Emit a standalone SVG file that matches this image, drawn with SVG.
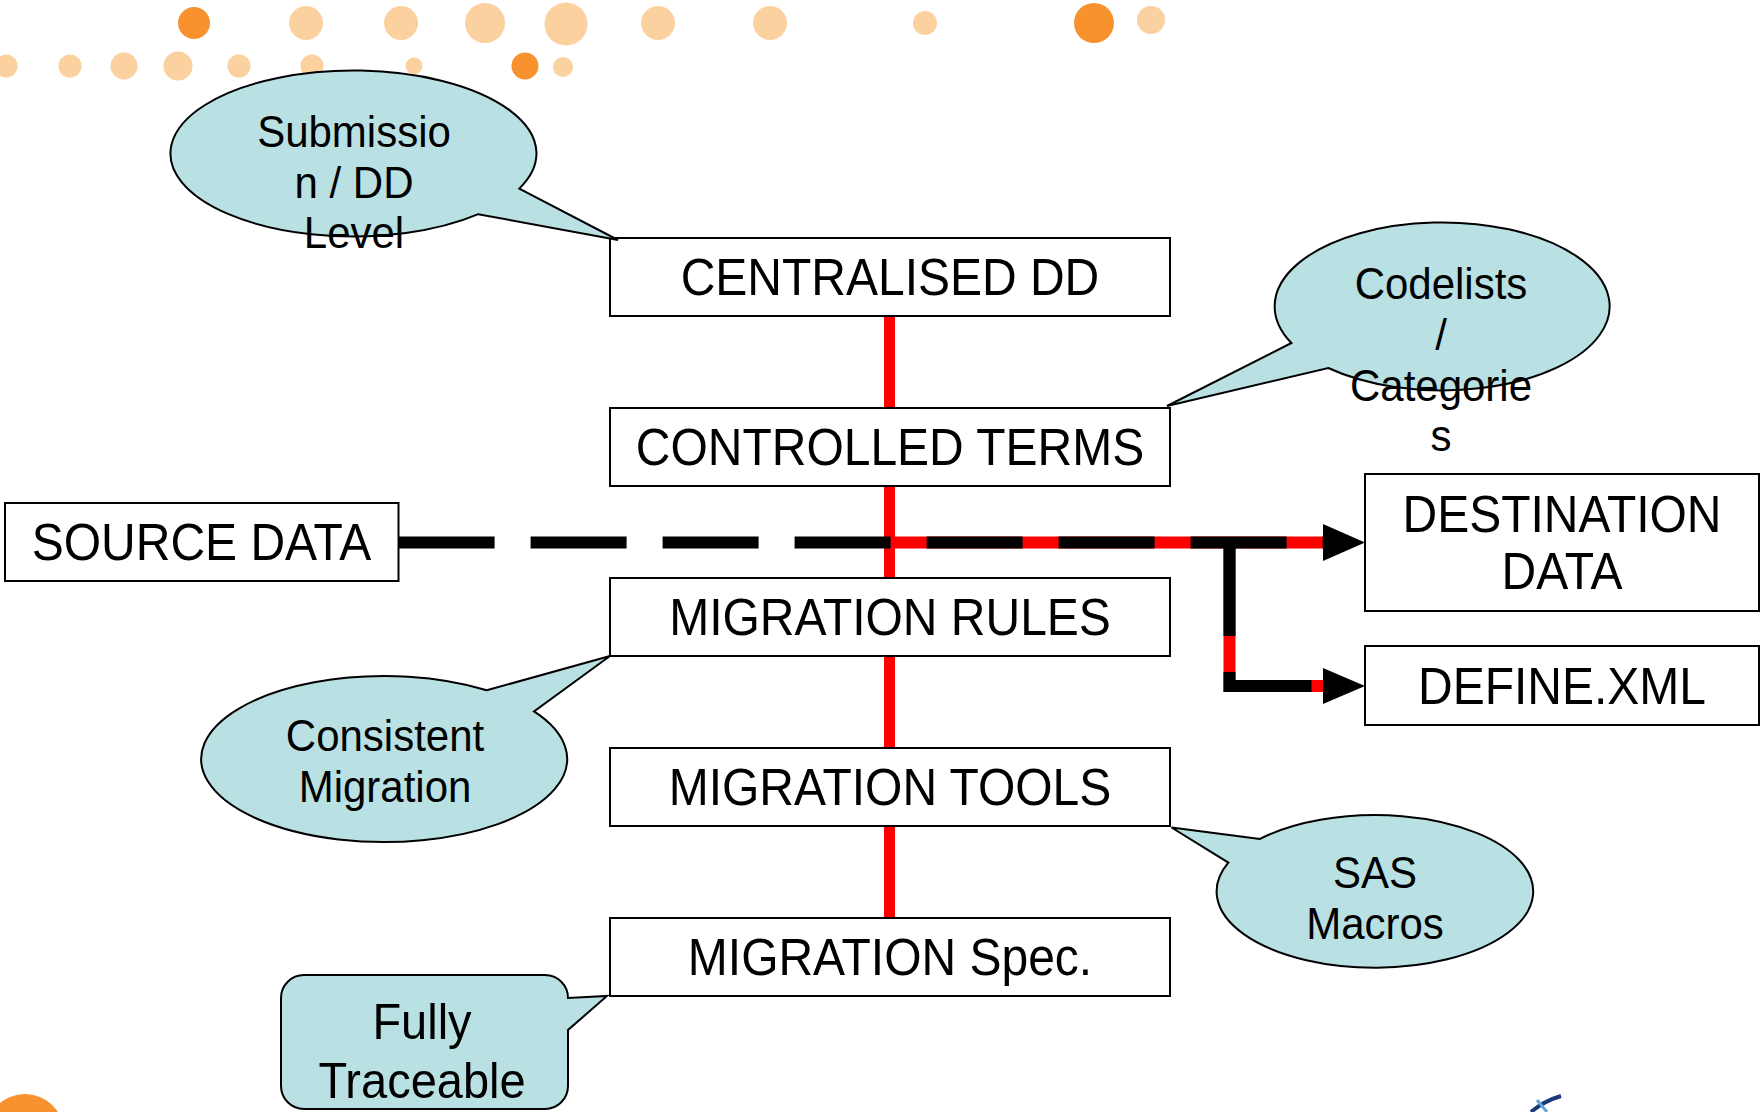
<svg xmlns="http://www.w3.org/2000/svg" width="1760" height="1112" viewBox="0 0 1760 1112">
  <defs>
    <style>
      .dot-o { fill: #F7922F; }
      .dot-p { fill: #FAD19F; }
      .box { fill: #FFFFFF; stroke: #000000; stroke-width: 2; }
      .bub { fill: #B9E0E3; stroke: #000000; stroke-width: 2; stroke-linejoin: miter; }
      .t { font-family: "Liberation Sans", Arial, sans-serif; text-anchor: middle; fill: #000000; }
      .tb { font-size: 48px; }
      .tc { font-size: 42px; }
      .tf { font-size: 47px; }
      .red { fill: none; stroke: #FF0000; stroke-width: 12; }
      .redv { fill: none; stroke: #FF0000; stroke-width: 11; }
      .dash { fill: none; stroke: #000000; stroke-width: 12; stroke-dasharray: 96 36; }
      .head { fill: #000000; }
    </style>
  </defs>

  <!-- decorative dots -->
  <g id="decor">
    <circle class="dot-o" cx="194" cy="23" r="16"/>
    <circle class="dot-p" cx="306" cy="23" r="17"/>
    <circle class="dot-p" cx="401" cy="23" r="17"/>
    <circle class="dot-p" cx="485" cy="23" r="20"/>
    <circle class="dot-p" cx="566" cy="24" r="21.5"/>
    <circle class="dot-p" cx="658" cy="23" r="17"/>
    <circle class="dot-p" cx="770" cy="23" r="17"/>
    <circle class="dot-p" cx="925" cy="23" r="12"/>
    <circle class="dot-o" cx="1094" cy="23" r="20"/>
    <circle class="dot-p" cx="1151" cy="20" r="14"/>
    <circle class="dot-p" cx="6" cy="66" r="11.5"/>
    <circle class="dot-p" cx="70" cy="66" r="11.5"/>
    <circle class="dot-p" cx="124" cy="66" r="13.5"/>
    <circle class="dot-p" cx="178" cy="66" r="14.5"/>
    <circle class="dot-p" cx="239" cy="66" r="11.5"/>
    <circle class="dot-p" cx="312" cy="66" r="11.5"/>
    <circle class="dot-p" cx="414" cy="66" r="8.5"/>
    <circle class="dot-o" cx="525" cy="66" r="13.5"/>
    <circle class="dot-p" cx="563" cy="67" r="10"/>
    <circle class="dot-o" cx="25" cy="1133" r="39"/>
    <path d="M1531 1112 Q1544 1101 1561 1096" fill="none" stroke="#1F3A7A" stroke-width="4"/>
    <path d="M1537 1100 L1547 1112" fill="none" stroke="#5FA8D8" stroke-width="3"/>
  </g>

  <!-- connectors -->
  <g id="connectors">
    <line class="redv" x1="889.5" y1="316" x2="889.5" y2="918"/>
    <path class="red" d="M889 542.5 H1324"/>
    <path class="red" d="M1229.5 542.5 V686 H1324"/>
    <path class="dash" d="M398.6 542.5 H1323"/>
    <path class="dash" d="M1229.5 540 V686 H1323"/>
    <polygon class="head" points="1323,524 1365,542.5 1323,561"/>
    <polygon class="head" points="1323,668 1365,686 1323,704"/>
  </g>

  <!-- process boxes -->
  <g id="centralised-dd">
    <rect class="box" x="610" y="238" width="560" height="78"/>
    <text class="t tb" transform="translate(890 295.4) scale(1 1.07)">CENTRALISED DD</text>
  </g>
  <g id="controlled-terms">
    <rect class="box" x="610" y="408" width="560" height="78"/>
    <text class="t tb" transform="translate(890 465.4) scale(1 1.07)">CONTROLLED TERMS</text>
  </g>
  <g id="source-data">
    <rect class="box" x="5" y="503" width="393.5" height="78"/>
    <text class="t tb" transform="translate(201.5 560.4) scale(1 1.07)">SOURCE DATA</text>
  </g>
  <g id="migration-rules">
    <rect class="box" x="610" y="578" width="560" height="78"/>
    <text class="t tb" transform="translate(890 635.4) scale(1 1.07)">MIGRATION RULES</text>
  </g>
  <g id="migration-tools">
    <rect class="box" x="610" y="748" width="560" height="78"/>
    <text class="t tb" transform="translate(890 805.4) scale(1 1.07)">MIGRATION TOOLS</text>
  </g>
  <g id="migration-spec">
    <rect class="box" x="610" y="918" width="560" height="78"/>
    <text class="t tb" transform="translate(890 975.4) scale(1 1.07)">MIGRATION Spec.</text>
  </g>
  <g id="destination-data">
    <rect class="box" x="1365" y="474" width="394" height="137"/>
    <text class="t tb" transform="translate(1562 531.7) scale(1 1.07)">DESTINATION</text>
    <text class="t tb" transform="translate(1562 589.3) scale(1 1.07)">DATA</text>
  </g>
  <g id="define-xml">
    <rect class="box" x="1365" y="646" width="394" height="79"/>
    <text class="t tb" transform="translate(1562 703.9) scale(1 1.07)">DEFINE.XML</text>
  </g>

  <!-- callouts -->
  <g id="callout-submission">
    <path class="bub" d="M519.3 188.6 L618 240 L478.3 214.2 A183 83 0 1 1 519.3 188.6 Z"/>
    <text class="t tc" transform="translate(354 147.3) scale(1 1.05)">Submissio</text>
    <text class="t tc" transform="translate(354 197.7) scale(1 1.05)">n / DD</text>
    <text class="t tc" transform="translate(354 248.3) scale(1 1.05)">Level</text>
  </g>
  <g id="callout-codelists">
    <path class="bub" d="M1291.4 343 L1167 406 L1328.3 368 A167.5 84 0 1 0 1291.4 343 Z"/>
    <text class="t tc" transform="translate(1441 299) scale(1 1.05)">Codelists</text>
    <text class="t tc" transform="translate(1441 350) scale(1 1.05)">/</text>
    <text class="t tc" transform="translate(1441 400.5) scale(1 1.05)">Categorie</text>
    <text class="t tc" transform="translate(1441 451) scale(1 1.05)">s</text>
  </g>
  <g id="callout-consistent">
    <path class="bub" d="M486.7 690.3 L610 656 L534 711.4 A183 83 0 1 1 486.7 690.3 Z"/>
    <text class="t tc" transform="translate(385 751) scale(1 1.05)">Consistent</text>
    <text class="t tc" transform="translate(385 801.7) scale(1 1.05)">Migration</text>
  </g>
  <g id="callout-sas">
    <path class="bub" d="M1260 838.9 L1171.5 827.5 L1228.3 862.6 A158.3 76.3 0 1 0 1260 838.9 Z"/>
    <text class="t tc" transform="translate(1375 888) scale(1 1.05)">SAS</text>
    <text class="t tc" transform="translate(1375 938.5) scale(1 1.05)">Macros</text>
  </g>
  <g id="callout-traceable">
    <path class="bub" d="M304 975 H545 A23 23 0 0 1 568 998 L607 996 L568 1030 V1086 A23 23 0 0 1 545 1109 H304 A23 23 0 0 1 281 1086 V998 A23 23 0 0 1 304 975 Z"/>
    <text class="t tf" transform="translate(422 1039) scale(1 1.07)">Fully</text>
    <text class="t tf" transform="translate(422 1098) scale(1 1.07)">Traceable</text>
  </g>
</svg>
